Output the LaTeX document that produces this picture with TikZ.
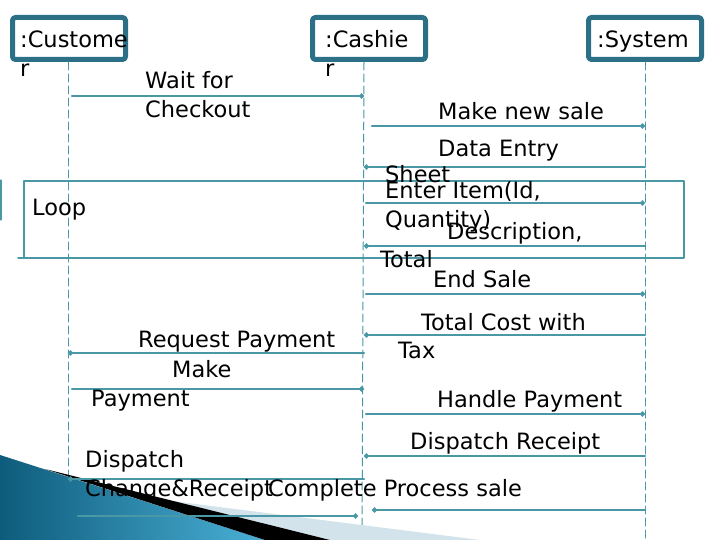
\documentclass[tikz,border=0pt]{standalone}
\usepackage{fontspec}
\setmainfont{DejaVu Sans}
\usetikzlibrary{arrows.meta}
\definecolor{headcol}{RGB}{43,112,134}
\definecolor{flowcol}{RGB}{74,152,166}
\definecolor{deckdark}{RGB}{14,92,124}
\definecolor{decklight}{RGB}{74,176,214}
\definecolor{deckgrey}{RGB}{210,227,235}
\tikzset{
 head/.style={draw=headcol,line width=5pt,rounded corners=3pt,minimum width=113pt,minimum height=42pt,inner sep=0pt},
 life/.style={draw=flowcol,line width=1pt,dash pattern=on 8pt off 4pt},
 msg/.style={draw=flowcol,line width=2.2pt,-{Circle[length=5pt]}},
 lbl/.style={anchor=base west,inner sep=0pt,font=\fontsize{22.5}{27}\selectfont},
 loopframe/.style={draw=flowcol,line width=1.2pt}
}
\begin{document}
\begin{tikzpicture}[x=1pt,y=-1pt,line cap=round,line join=round]
 \useasboundingbox[fill=white] (0,0) rectangle (720,540);
 \node[head] (cusbox) at (69,38.5) {};
 \node[head] (casbox) at (369,38.5) {};
 \node[head] (sysbox) at (645,38.5) {};
 \node[lbl] (cusA) at (20,48) {:Custome};
 \node[lbl] (cusB) at (20,77) {r};
 \node[lbl] (casA) at (325,48) {:Cashie};
 \node[lbl] (casB) at (325,77) {r};
 \node[lbl] (sysA) at (597,48) {:System};
 \coordinate (cus) at (68,62);
 \coordinate (cas) at (364,62);
 \coordinate (sys) at (645,62);
 \coordinate (cusend) at (68,540);
 \coordinate (casend) at (362,540);
 \coordinate (sysend) at (645,540);
 \draw[life] (cus) -- (cusend);
 \draw[life] (cas) -- (casend);
 \draw[life] (sys) -- (sysend);
 \fill[deckgrey] (140,497) -- (480,540) -- (300,540) -- cycle;
 \shade[left color=deckdark,right color=decklight] (0,455) -- (265,540) -- (0,540) -- cycle;
 \fill[black] (45,469) -- (330,540) -- (265,540) -- cycle;
 \draw[loopframe] (24,181) rectangle (684,258);
 \draw[loopframe] (18,258) -- (24,258);
 \draw[loopframe] (1,180) -- (1,220);
 \node[lbl] (loop) at (32,215) {Loop};
 \draw[msg,shorten <=4pt] (cus |- 0,96) -- (cas |- 0,96);
 \draw[msg,shorten <=8pt] (cas |- 0,126) -- (sys |- 0,126);
 \draw[msg] (sys |- 0,167) -- (cas |- 0,167);
 \draw[msg,shorten <=2pt] (cas |- 0,203) -- (sys |- 0,203);
 \draw[msg] (sys |- 0,246) -- (cas |- 0,246);
 \draw[msg,shorten <=2pt] (cas |- 0,294) -- (sys |- 0,294);
 \draw[msg] (sys |- 0,335) -- (cas |- 0,335);
 \draw[msg] (cas |- 0,353) -- (cus |- 0,353);
 \draw[msg,shorten <=4pt] (cus |- 0,389) -- (cas |- 0,389);
 \draw[msg,shorten <=2pt] (cas |- 0,414) -- (sys |- 0,414);
 \draw[msg] (sys |- 0,456) -- (cas |- 0,456);
 \draw[msg] (cas |- 0,479) -- (cus |- 0,479);
 \draw[msg,shorten >=8pt] (sys |- 0,510) -- (cas |- 0,510);
 \draw[msg,shorten <=10pt,shorten >=6pt] (cus |- 0,516) -- (cas |- 0,516);
 \node[lbl] (waitA) at (145,89) {Wait for};
 \node[lbl] (waitB) at (145,118) {Checkout};
 \node[lbl] (newsale) at (438,120) {Make new sale};
 \node[lbl] (entryA) at (438,157) {Data Entry};
 \node[lbl] (entryB) at (385,183) {Sheet};
 \node[lbl] (itemA) at (385,199) {Enter Item(Id,};
 \node[lbl] (itemB) at (385,227) {Quantity)};
 \node[lbl] (descA) at (447,240) {Description,};
 \node[lbl] (descB) at (380,267) {Total};
 \node[lbl] (endsale) at (433,287) {End Sale};
 \node[lbl] (costA) at (421,330) {Total Cost with};
 \node[lbl] (costB) at (398,358) {Tax};
 \node[lbl] (request) at (138,347) {Request Payment};
 \node[lbl] (payA) at (172,377) {Make};
 \node[lbl] (payB) at (91,406) {Payment};
 \node[lbl] (handle) at (437,407) {Handle Payment};
 \node[lbl] (receipt) at (410,449) {Dispatch Receipt};
 \node[lbl] (changeA) at (85,467) {Dispatch};
 \node[lbl] (changeB) at (85,496) {Change\&Receipt};
 \node[lbl] (complete) at (268,496) {Complete Process sale};
\end{tikzpicture}
\end{document}
